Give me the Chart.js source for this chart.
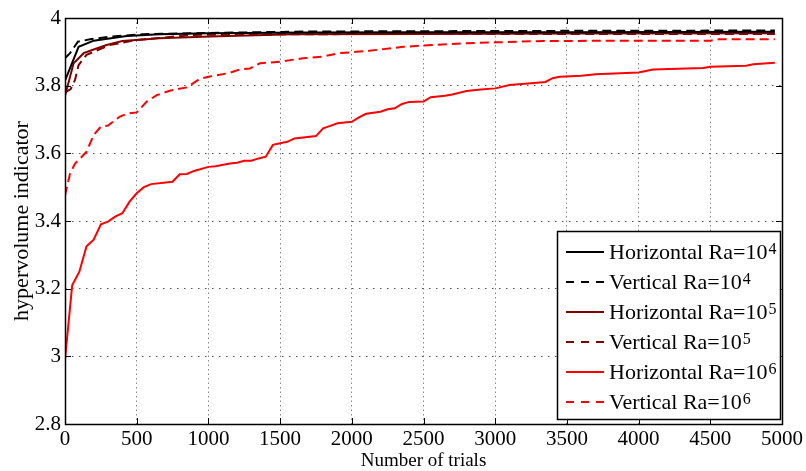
<!DOCTYPE html>
<html>
<head>
<meta charset="utf-8">
<script src="https://cdn.jsdelivr.net/npm/chart.js@4"></script>
<style>
    html, body { margin: 0; padding: 0; background: #fff; }
</style>
</head>
<body>
<canvas id="myChart" width="806" height="471"></canvas>
<script>
// values
const h4Trials = [0, 95, 200, 430, 660, 1000, 1700, 2500, 3500, 4950];
const h4Values = [3.815, 3.915, 3.933, 3.947, 3.952, 3.955, 3.957, 3.958, 3.958, 3.959];

const v4Trials = [0, 35, 90, 175, 310, 545, 890, 1360, 1680, 2500, 3500, 4950];
const v4Values = [3.881, 3.896, 3.93, 3.937, 3.945, 3.952, 3.955, 3.958, 3.96, 3.961, 3.962, 3.963];

const h5Trials = [0, 60, 130, 200, 290, 400, 660, 1010, 1590, 2500, 3500, 4950];
const h5Values = [3.77, 3.866, 3.896, 3.907, 3.92, 3.932, 3.94, 3.945, 3.952, 3.953, 3.954, 3.955];

const v5Trials = [0, 40, 70, 95, 150, 200, 310, 500, 890, 1590, 2500, 3500, 4950];
const v5Values = [3.78, 3.79, 3.817, 3.861, 3.891, 3.9, 3.92, 3.935, 3.95, 3.952, 3.953, 3.953, 3.953];

const h6Trials = [0, 50, 100, 150, 200, 250, 300, 350, 400, 450, 500, 550, 600, 750, 800, 850, 900, 1000,
    1050, 1150, 1200, 1250, 1300, 1350, 1400, 1450, 1500, 1550, 1600, 1750, 1800, 1850, 1900, 2000, 2050,
    2100, 2200, 2250, 2300, 2350, 2400, 2500, 2550, 2650, 2700, 2800, 2900, 3000, 3100, 3250, 3350, 3400,
    3450, 3600, 3700, 4000, 4100, 4450, 4500, 4750, 4800, 4950];
const h6Values = [2.99, 3.21, 3.25, 3.325, 3.345, 3.39, 3.398, 3.413, 3.423, 3.457, 3.482, 3.5, 3.509, 3.516,
    3.538, 3.539, 3.548, 3.56, 3.562, 3.57, 3.572, 3.578, 3.578, 3.585, 3.59, 3.625, 3.63, 3.634, 3.644,
    3.651, 3.674, 3.681, 3.689, 3.693, 3.706, 3.717, 3.723, 3.73, 3.733, 3.746, 3.752, 3.753, 3.766, 3.77,
    3.774, 3.784, 3.789, 3.792, 3.802, 3.807, 3.811, 3.822, 3.826, 3.829, 3.834, 3.839, 3.848, 3.852, 3.856,
    3.859, 3.863, 3.868];

const v6Trials = [0, 35, 70, 100, 150, 200, 250, 300, 380, 440, 500, 570, 640, 730, 850, 940, 1010, 1140,
    1220, 1290, 1360, 1500, 1660, 1800, 1910, 2030, 2120, 2220, 2360, 2560, 2770, 3000, 3330, 4000, 4500,
    4560, 4950];
const v6Values = [3.475, 3.54, 3.57, 3.582, 3.605, 3.654, 3.679, 3.682, 3.708, 3.718, 3.721, 3.753, 3.772,
    3.785, 3.795, 3.82, 3.827, 3.837, 3.848, 3.851, 3.866, 3.871, 3.881, 3.886, 3.896, 3.9, 3.903, 3.908,
    3.915, 3.92, 3.925, 3.928, 3.932, 3.933, 3.933, 3.937, 3.937];

const seriesNames = ['Horizontal Ra=10', 'Vertical Ra=10', 'Horizontal Ra=10', 'Vertical Ra=10', 'Horizontal Ra=10', 'Vertical Ra=10'];
const seriesExponents = ['4', '4', '5', '5', '6', '6'];

const xTicks = [0, 500, 1000, 1500, 2000, 2500, 3000, 3500, 4000, 4500, 5000];
const yTicks = [2.8, 3, 3.2, 3.4, 3.6, 3.8, 4];

const serif = "'Liberation Serif', 'Times New Roman', serif";
const black = '#000000';
const darkRed = '#800000';
const red = '#ff0000';

const toPoints = (xs, ys) => xs.map((t, i) => ({ x: t, y: ys[i] }));

const makeSet = (i, xs, ys, color, dashed) => ({
    label: seriesNames[i] + seriesExponents[i],
    data: toPoints(xs, ys),
    borderColor: color,
    backgroundColor: color,
    borderWidth: 2,
    borderDash: dashed ? [9, 5] : [],
    pointRadius: 0,
    tension: 0,
    fill: false
});

// box and inward tick marks like the matlab axes
const frame = {
    id: 'frame',
    afterDatasetsDraw(chart) {
        const { ctx, chartArea: a, scales: { x, y } } = chart;
        ctx.save();
        ctx.strokeStyle = black;
        ctx.lineWidth = 1;
        ctx.beginPath();
        x.ticks.forEach(t => {
            const px = Math.round(x.getPixelForValue(t.value)) + 0.5;
            ctx.moveTo(px, a.bottom); ctx.lineTo(px, a.bottom - 6);
            ctx.moveTo(px, a.top); ctx.lineTo(px, a.top + 6);
        });
        y.ticks.forEach(t => {
            const py = Math.round(y.getPixelForValue(t.value)) + 0.5;
            ctx.moveTo(a.left, py); ctx.lineTo(a.left + 6, py);
            ctx.moveTo(a.right, py); ctx.lineTo(a.right - 6, py);
        });
        ctx.stroke();
        ctx.lineWidth = 1.5;
        ctx.strokeRect(Math.round(a.left) + 0.5, Math.round(a.top) + 0.5, Math.round(a.right - a.left), Math.round(a.bottom - a.top));
        ctx.restore();
    }
};

// legend with superscript exponents
const legendBox = {
    id: 'legendBox',
    afterDraw(chart) {
        const { ctx, chartArea: a } = chart;
        const w = 223, h = 188;
        const x0 = a.right - 2 - w;
        const y0 = a.bottom - 5 - h;
        ctx.save();
        ctx.fillStyle = '#fff';
        ctx.fillRect(x0, y0, w, h);
        ctx.strokeStyle = black;
        ctx.lineWidth = 1.5;
        ctx.strokeRect(x0 + 0.5, y0 + 0.5, w, h);
        chart.data.datasets.forEach((ds, i) => {
            const cy = y0 + 21 + i * 30;
            ctx.strokeStyle = ds.borderColor;
            ctx.lineWidth = 2;
            ctx.setLineDash(ds.borderDash.length ? [8, 7] : []);
            ctx.beginPath();
            ctx.moveTo(x0 + 9, cy);
            ctx.lineTo(x0 + 47, cy);
            ctx.stroke();
            ctx.setLineDash([]);
            ctx.fillStyle = black;
            ctx.textBaseline = 'alphabetic';
            ctx.font = '22px ' + serif;
            ctx.fillText(seriesNames[i], x0 + 52, cy + 7);
            const tw = ctx.measureText(seriesNames[i]).width;
            ctx.font = '16px ' + serif;
            ctx.fillText(seriesExponents[i], x0 + 53 + tw, cy + 2);
        });
        ctx.restore();
    }
};

const ctx = document.getElementById('myChart').getContext('2d');
let myChart = new Chart(ctx, {
    type: 'line',
    data: {
        datasets: [
            makeSet(0, h4Trials, h4Values, black, false),
            makeSet(1, v4Trials, v4Values, black, true),
            makeSet(2, h5Trials, h5Values, darkRed, false),
            makeSet(3, v5Trials, v5Values, darkRed, true),
            makeSet(4, h6Trials, h6Values, red, false),
            makeSet(5, v6Trials, v6Values, red, true)
        ]
    },
    options: {
        responsive: false,
        animation: false,
        devicePixelRatio: 1,
        layout: { padding: { left: 0, top: 18, right: 23, bottom: 0 } },
        plugins: {
            legend: { display: false },
            tooltip: { enabled: false }
        },
        scales: {
            x: {
                type: 'linear',
                min: 0,
                max: 5000,
                afterFit: scale => { scale.height = 47; },
                afterBuildTicks: scale => { scale.ticks = xTicks.map(v => ({ value: v })); },
                ticks: {
                    autoSkip: false,
                    maxRotation: 0,
                    padding: 3,
                    color: black,
                    font: { family: serif, size: 21 },
                    callback: v => String(v)
                },
                grid: { color: '#8a8a8a', lineWidth: 1, drawTicks: false },
                border: { display: false, dash: [1.5, 3] },
                title: {
                    display: true,
                    text: 'Number of trials',
                    color: black,
                    padding: 0,
                    font: { family: serif, size: 19, lineHeight: 1.1 }
                }
            },
            y: {
                min: 2.8,
                max: 4,
                afterFit: scale => { scale.width = 65; },
                afterBuildTicks: scale => { scale.ticks = yTicks.map(v => ({ value: v })); },
                ticks: {
                    padding: 4,
                    color: black,
                    font: { family: serif, size: 21 },
                    callback: v => String(Math.round(v * 10) / 10)
                },
                grid: { color: '#555', lineWidth: 1, drawTicks: false },
                border: { display: false, dash: [1.5, 5.5] },
                title: {
                    display: true,
                    text: 'hypervolume indicator',
                    color: black,
                    padding: { top: 9, bottom: 0 },
                    font: { family: serif, size: 22 }
                }
            }
        }
    },
    plugins: [frame, legendBox]
});
</script>
</body>
</html>
